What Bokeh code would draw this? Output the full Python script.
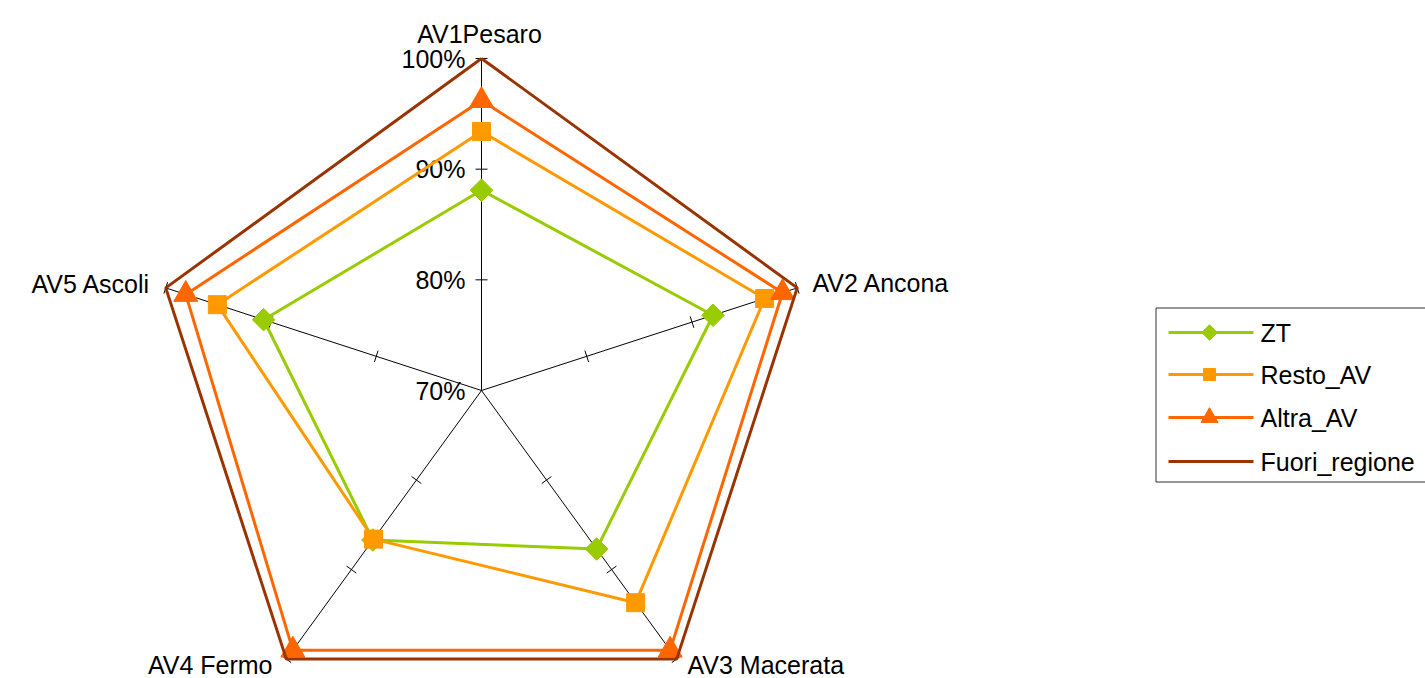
import math
from bokeh.plotting import figure
from bokeh.models import Range1d
from bokeh.core.properties import value
from bokeh.embed import file_html
from bokeh.resources import INLINE

# ---------------- data ----------------
categories = ["AV1Pesaro", "AV2 Ancona", "AV3 Macerata", "AV4 Fermo", "AV5 Ascoli"]
series_names = ["ZT", "Resto_AV", "Altra_AV", "Fuori_regione"]
zt = [88.1, 92.0, 87.7, 86.7, 90.7]
resto_av = [93.4, 96.9, 93.7, 86.6, 95.1]
altra_av = [96.2, 98.6, 99.0, 99.0, 98.1]
fuori_regione = [100.0, 100.0, 100.0, 100.0, 100.0]
tick_values = [70, 80, 90, 100]
tick_labels = ["70%", "80%", "90%", "100%"]
r_min, r_max = 70, 100

# ---------------- layout ----------------
W, H = 1425, 678
CX, CY = 481, 390          # centre of the radar, in pixels
R_PX = 332                 # pixel radius of the outer ring
k = (r_max - r_min) / R_PX # data units per pixel
FONT = value("Liberation Sans")
FS = "25px"

def px(x):
    return (x - CX) * k

def py(y):
    return (CY - y) * k

p = figure(width=W, height=H,
           x_range=Range1d(px(0), px(W)), y_range=Range1d(py(H), py(0)),
           output_backend="svg", toolbar_location=None, min_border=0,
           x_axis_location=None, y_axis_location=None)
p.grid.visible = False
p.outline_line_color = None
p.background_fill_color = "white"

n = len(categories)
angles = [math.pi / 2 - 2 * math.pi * i / n for i in range(n)]

def polar(v, i):
    r = v - r_min
    return r * math.cos(angles[i]), r * math.sin(angles[i])

# spokes
sx1 = [polar(r_max, i)[0] for i in range(n)]
sy1 = [polar(r_max, i)[1] for i in range(n)]
p.segment(x0=[0] * n, y0=[0] * n, x1=sx1, y1=sy1, line_color="black", line_width=1)

# tick marks on every spoke
tx0, ty0, tx1, ty1 = [], [], [], []
half = 6 * k
for i in range(n):
    nx, ny = -math.sin(angles[i]), math.cos(angles[i])
    for tv in tick_values[1:]:
        cx, cy = polar(tv, i)
        tx0.append(cx - nx * half); ty0.append(cy - ny * half)
        tx1.append(cx + nx * half); ty1.append(cy + ny * half)
p.segment(x0=tx0, y0=ty0, x1=tx1, y1=ty1, line_color="black", line_width=1)

# tick labels on the first spoke
p.text(x=[px(465)] * len(tick_values),
       y=[polar(tv, 0)[1] for tv in tick_values],
       text=tick_labels, text_font=FONT, text_font_size=FS,
       text_align="right", text_baseline="middle", text_color="black")

# category labels
lab_x = [px(479), px(812), px(687), px(272), px(150)]
lab_y = [py(33), py(282), py(664), py(664), py(283)]
lab_align = ["center", "left", "left", "right", "right"]
lab_base = ["alphabetic", "middle", "middle", "middle", "middle"]
for i in range(n):
    p.text(x=[lab_x[i]], y=[lab_y[i]], text=[categories[i]], text_font=FONT,
           text_font_size=FS, text_align=lab_align[i], text_baseline=lab_base[i],
           text_color="black")

# series
colors = ["#99CC00", "#FF9900", "#FF6600", "#993300"]
markers = ["square", "square", "triangle", None]
msizes = [16, 18, 24, 0]
mangles = [math.pi / 4, 0, 0, 0]
all_vals = [zt, resto_av, altra_av, fuori_regione]

for vals, col, mk, ms, ma in zip(all_vals, colors, markers, msizes, mangles):
    xs = [polar(v, i)[0] for i, v in enumerate(vals)]
    ys = [polar(v, i)[1] for i, v in enumerate(vals)]
    p.line(xs + xs[:1], ys + ys[:1], line_color=col, line_width=3)
    if mk:
        p.scatter(xs, ys, marker=mk, size=ms, angle=ma,
                  fill_color=col, line_color=col)

# legend (drawn manually to match the reference box)
p.quad(left=[px(1155.5)], right=[px(1440)], top=[py(307.5)], bottom=[py(481.5)],
       fill_color="white", line_color="#303030", line_width=1)
row_y = [332, 374, 417, 461]
leg_sizes = [11, 12, 17, 0]
for j in range(len(series_names)):
    yy = py(row_y[j])
    p.line([px(1168), px(1253)], [yy, yy], line_color=colors[j], line_width=3)
    if markers[j]:
        p.scatter([px(1209)], [yy], marker=markers[j], size=leg_sizes[j],
                  angle=mangles[j], fill_color=colors[j], line_color=colors[j])
    p.text(x=[px(1260)], y=[yy], text=[series_names[j]], text_font=FONT,
           text_font_size=FS, text_align="left", text_baseline="middle",
           text_color="black")

open("out.html", "w").write(file_html(p, INLINE))
